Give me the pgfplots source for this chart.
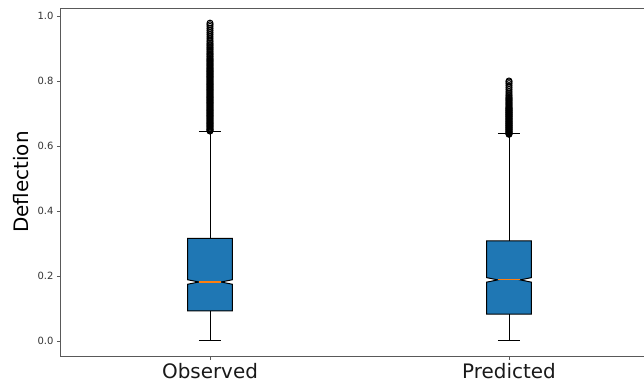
\documentclass[border=0pt]{standalone}
\usepackage{pgfplots}
\pgfplotsset{compat=1.18}
\usepackage{fontspec}
\setmainfont{DejaVu Sans}
\definecolor{mplblue}{HTML}{1F77B4}
\definecolor{mplorange}{HTML}{FF7F0E}
\begin{document}
\begin{tikzpicture}
\begin{axis}[
  at={(0,0)}, anchor=south west,
  scale only axis, width=598bp, height=348bp,
  xmin=0.5, xmax=2.5, ymin=-0.0462, ymax=1.0246,
  xtick={1,2}, xticklabels={Observed,Predicted},
  ytick={0,0.2,0.4,0.6,0.8,1.0},
  /pgf/number format/.cd, fixed, fixed zerofill, precision=1, assume math mode=true,
  /pgfplots/.cd,
  tick pos=left, tick align=outside, major tick length=3.5bp,
  tick style={black!65, line width=0.8bp},
  axis line style={black!65, line width=0.8bp},
  xticklabel style={font=\fontsize{20}{24}\selectfont, black!90},
  yticklabel style={font=\fontsize{10}{12}\selectfont, black!80},
  ylabel={Deflection},
  every axis y label/.style={at={([xshift=-39.5bp]rel axis cs:0,0.5)}, rotate=90, anchor=center, font=\fontsize{20}{24}\selectfont},
]
% Observed box (notched)
\addplot[fill=mplblue, draw=black, line width=1bp] coordinates {
(0.925,0.093) (1.075,0.093) (1.075,0.1745) (1.0375,0.1815) (1.075,0.1885) (1.075,0.316)
(0.925,0.316) (0.925,0.1885) (0.9625,0.1815) (0.925,0.1745)} -- cycle;
\addplot[mplorange, line width=1.2bp] coordinates {(0.9625,0.1815) (1.0375,0.1815)};
\addplot[black, line width=1bp] coordinates {(1,0.093) (1,0)};
\addplot[black, line width=1bp] coordinates {(0.9625,0) (1.0375,0)};
\addplot[black, line width=1bp] coordinates {(1,0.316) (1,0.644)};
\addplot[black, line width=1bp] coordinates {(0.9625,0.644) (1.0375,0.644)};
% Predicted box (notched)
\addplot[fill=mplblue, draw=black, line width=1bp] coordinates {
(1.925,0.083) (2.075,0.083) (2.075,0.181) (2.0375,0.188) (2.075,0.195) (2.075,0.308)
(1.925,0.308) (1.925,0.195) (1.9625,0.188) (1.925,0.181)} -- cycle;
\addplot[mplorange, line width=1.2bp] coordinates {(1.9625,0.188) (2.0375,0.188)};
\addplot[black, line width=1bp] coordinates {(2,0.083) (2,0)};
\addplot[black, line width=1bp] coordinates {(1.9625,0) (2.0375,0)};
\addplot[black, line width=1bp] coordinates {(2,0.308) (2,0.637)};
\addplot[black, line width=1bp] coordinates {(1.9625,0.637) (2.0375,0.637)};
% Outliers
\addplot[only marks, mark=o, mark size=3bp, black, mark options={line width=1bp}] coordinates {
(1,0.646) (1,0.648) (1,0.650) (1,0.652) (1,0.655) (1,0.658) (1,0.660) (1,0.663) (1,0.665) (1,0.668)
(1,0.670) (1,0.673) (1,0.675) (1,0.678) (1,0.680) (1,0.683) (1,0.685) (1,0.688) (1,0.690) (1,0.693)
(1,0.695) (1,0.698) (1,0.700) (1,0.703) (1,0.705) (1,0.708) (1,0.710) (1,0.713) (1,0.715) (1,0.718)
(1,0.720) (1,0.723) (1,0.725) (1,0.728) (1,0.730) (1,0.733) (1,0.735) (1,0.738) (1,0.740) (1,0.743)
(1,0.745) (1,0.748) (1,0.750) (1,0.753) (1,0.755) (1,0.758) (1,0.760) (1,0.763) (1,0.765) (1,0.768)
(1,0.770) (1,0.773) (1,0.775) (1,0.778) (1,0.780) (1,0.783) (1,0.785) (1,0.788) (1,0.790) (1,0.793)
(1,0.795) (1,0.798) (1,0.800) (1,0.803) (1,0.805) (1,0.808) (1,0.810) (1,0.813) (1,0.815) (1,0.818)
(1,0.820) (1,0.823) (1,0.825) (1,0.828) (1,0.830) (1,0.833) (1,0.835) (1,0.838) (1,0.840) (1,0.843)
(1,0.846) (1,0.849) (1,0.852) (1,0.855) (1,0.858) (1,0.861) (1,0.864) (1,0.867) (1,0.870) (1,0.874)
(1,0.877) (1,0.881) (1,0.884) (1,0.888) (1,0.892) (1,0.896) (1,0.900) (1,0.904) (1,0.908) (1,0.912)
(1,0.916) (1,0.921) (1,0.926) (1,0.932) (1,0.938) (1,0.944) (1,0.950) (1,0.956) (1,0.962) (1,0.968)
(1,0.973) (1,0.978)
(2,0.636) (2,0.638) (2,0.640) (2,0.642) (2,0.644) (2,0.646) (2,0.648) (2,0.650) (2,0.652) (2,0.654)
(2,0.656) (2,0.658) (2,0.660) (2,0.662) (2,0.664) (2,0.666) (2,0.668) (2,0.670) (2,0.672) (2,0.674)
(2,0.676) (2,0.678) (2,0.680) (2,0.682) (2,0.684) (2,0.686) (2,0.688) (2,0.690) (2,0.692) (2,0.694)
(2,0.696) (2,0.698) (2,0.700) (2,0.702) (2,0.704) (2,0.706) (2,0.708) (2,0.710) (2,0.712) (2,0.714)
(2,0.716) (2,0.718) (2,0.720) (2,0.723) (2,0.726) (2,0.729) (2,0.732) (2,0.735) (2,0.738) (2,0.741)
(2,0.744) (2,0.747) (2,0.750) (2,0.754) (2,0.758) (2,0.763) (2,0.768) (2,0.774) (2,0.780) (2,0.786)
(2,0.792) (2,0.797) (2,0.800)
};
\end{axis}
\pgfresetboundingbox
\useasboundingbox (-60.5bp,-29bp) rectangle (583.5bp,356bp);
\end{tikzpicture}
\end{document}
